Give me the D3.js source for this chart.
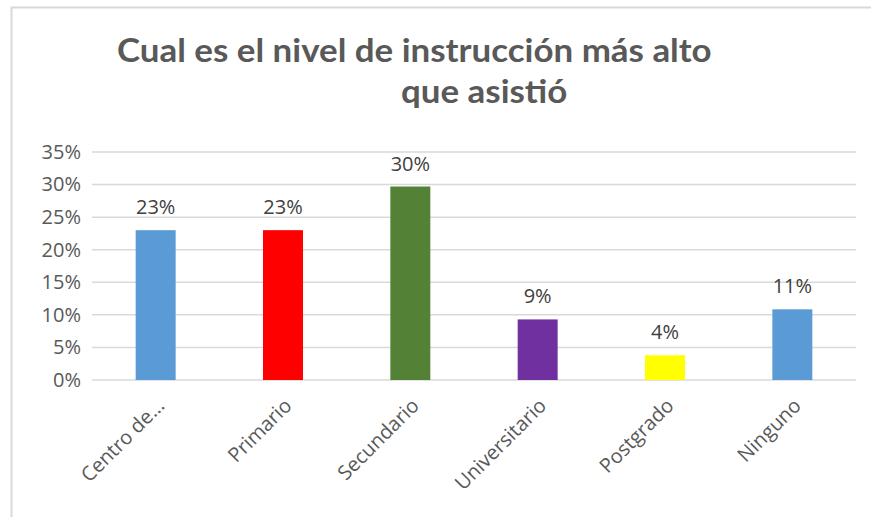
<!DOCTYPE html>
<html>
<head>
<meta charset="utf-8">
<script src="https://cdn.jsdelivr.net/npm/d3@7"></script>
<style>
    body { margin: 0; background: #fff; }
    svg { display: block; }
</style>
</head>
<body>
<svg id="chart" width="871" height="517"></svg>
<script>
// chart data
const categories = ["Centro de...", "Primario", "Secundario", "Universitario", "Postgrado", "Ninguno"];
const values = [0.23, 0.23, 0.297, 0.093, 0.038, 0.1085];
const valueLabels = ["23%", "23%", "30%", "9%", "4%", "11%"];
const barColors = ["#5B9BD5", "#FF0000", "#538135", "#7030A0", "#FFFF00", "#5B9BD5"];
const yTicks = [0, 0.05, 0.10, 0.15, 0.20, 0.25, 0.30, 0.35];
const titleLines = ["Cual es el nivel de instrucción más alto", "que asistió"];

let svg = d3.select("#chart");

// outer frame, only top and left edges are visible
svg.append("rect")
    .attr("x", 11.5)
    .attr("y", 7.5)
    .attr("width", 900)
    .attr("height", 600)
    .attr("fill", "none")
    .attr("stroke", "#d9d9d9")
    .attr("stroke-width", 2);

let x = d3.scaleBand()
    .domain(categories)
    .range([92, 856])
    .paddingInner(0.686)
    .paddingOuter(0.343);

let y = d3.scaleLinear()
    .domain([0, 0.35])
    .range([380, 152]);

// gridlines
svg.append("g")
    .attr("class", "grid")
    .selectAll("line")
    .data(yTicks)
    .enter()
    .append("line")
    .attr("x1", 92)
    .attr("x2", 856)
    .attr("y1", function (d) { return y(d); })
    .attr("y2", function (d) { return y(d); })
    .attr("stroke", "#d9d9d9")
    .attr("stroke-width", 1.5);

// y axis labels
let yAxis = d3.axisLeft(y)
    .tickValues(yTicks)
    .tickFormat(d3.format(".0%"))
    .tickSize(0)
    .tickPadding(11);

let yg = svg.append("g")
    .attr("transform", "translate(92,0)")
    .call(yAxis);
yg.select(".domain").remove();
yg.selectAll("text")
    .attr("font-family", "'Open Sans', sans-serif")
    .attr("font-size", 20)
    .attr("fill", "#595959");

// bars
svg.selectAll(".bar")
    .data(categories)
    .enter()
    .append("rect")
    .attr("class", "bar")
    .attr("x", function (d) { return x(d); })
    .attr("width", x.bandwidth())
    .attr("y", function (d, i) { return y(values[i]); })
    .attr("height", function (d, i) { return y(0) - y(values[i]); })
    .attr("fill", function (d, i) { return barColors[i]; });

// value labels
svg.selectAll(".vlabel")
    .data(categories)
    .enter()
    .append("text")
    .attr("class", "vlabel")
    .attr("x", function (d) { return x(d) + x.bandwidth() / 2; })
    .attr("y", function (d, i) { return y(values[i]) - 16; })
    .attr("text-anchor", "middle")
    .attr("font-family", "'Open Sans', sans-serif")
    .attr("font-size", 20)
    .attr("fill", "#404040")
    .text(function (d, i) { return valueLabels[i]; });

// x axis labels, rotated
let xAxis = d3.axisBottom(x).tickSize(0).tickPadding(0);
let xg = svg.append("g")
    .attr("transform", "translate(0,380)")
    .call(xAxis);
xg.select(".domain").remove();
xg.selectAll("text")
    .attr("font-family", "'Open Sans', sans-serif")
    .attr("font-size", 20)
    .attr("fill", "#595959")
    .attr("text-anchor", "end")
    .attr("y", 0)
    .attr("dy", "0.35em")
    .attr("transform", "translate(5,22) rotate(-45)");

// title, fitted to the width of the original first line
let title = svg.append("text")
    .attr("class", "title")
    .attr("font-family", "Lato, sans-serif")
    .attr("font-weight", 700)
    .attr("font-size", 32)
    .attr("fill", "#595959");
let t1 = title.append("tspan")
    .attr("x", 0)
    .attr("y", 0)
    .text(titleLines[0]);
let natural = t1.node().getComputedTextLength();
let sx = 595 / natural;
title.attr("transform", "translate(117,62) scale(" + sx + ",1)");
title.append("tspan")
    .attr("x", (401 - 117) / sx)
    .attr("y", 41)
    .text(titleLines[1]);
</script>
</body>
</html>
